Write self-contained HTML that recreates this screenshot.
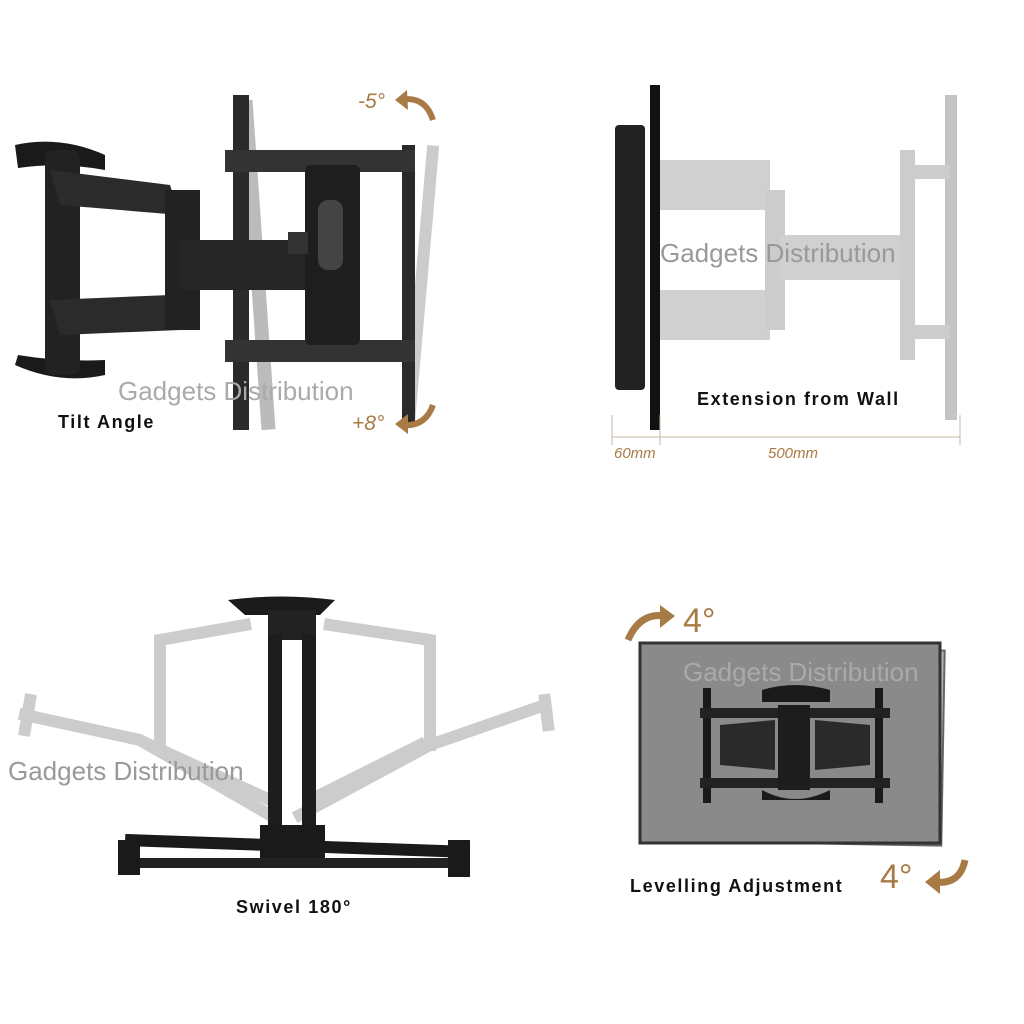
<!DOCTYPE html>
<html><head><style>
html,body{margin:0;padding:0;background:#fff;width:1024px;height:1024px;overflow:hidden}
svg{display:block}
text{font-family:"Liberation Sans",sans-serif}
.lb{font-size:18px;font-weight:bold;fill:#111;letter-spacing:1.6px}
.wm{font-size:26px;fill:#999}
</style></head><body>
<svg width="1024" height="1024" viewBox="0 0 1024 1024" xmlns="http://www.w3.org/2000/svg">
<rect width="1024" height="1024" fill="#fff"/>

<g>
 <rect x="250" y="100" width="14" height="330" fill="#bbb" transform="rotate(-4 257 265)"/>
 <rect x="415" y="145" width="12" height="280" fill="#ccc" transform="rotate(5 421 285)"/>
 <rect x="233" y="95" width="16" height="335" fill="#2a2a2a"/>
 <rect x="402" y="145" width="13" height="280" fill="#2a2a2a"/>
 <rect x="225" y="150" width="190" height="22" fill="#333"/>
 <rect x="225" y="340" width="190" height="22" fill="#333"/>
 <rect x="305" y="165" width="55" height="180" rx="6" fill="#1e1e1e"/>
 <rect x="318" y="200" width="25" height="70" rx="10" fill="#444"/>
 <path d="M15 145 Q60 135 105 155 L105 170 Q60 162 18 168 Z" fill="#1a1a1a"/>
 <path d="M15 365 Q60 385 105 375 L105 360 Q60 362 18 355 Z" fill="#1a1a1a"/>
 <rect x="45" y="150" width="35" height="225" rx="8" fill="#222"/>
 <path d="M50 170 L170 185 L180 215 L60 205 Z" fill="#2b2b2b"/>
 <path d="M50 300 L170 295 L180 330 L60 335 Z" fill="#2b2b2b"/>
 <rect x="165" y="190" width="35" height="140" fill="#222"/>
 <rect x="180" y="240" width="125" height="50" fill="#262626"/>
 <rect x="288" y="232" width="20" height="22" fill="#333"/>
</g>
<text x="358" y="108" font-size="21" font-style="italic" fill="#a87a45">-5°</text>
<path d="M400 100 Q425 95 433 120" stroke="#a87a45" stroke-width="6" fill="none"/>
<path d="M395 100 L407 90 L408 110 Z" fill="#a87a45"/>
<text x="352" y="430" font-size="21" font-style="italic" fill="#a87a45">+8°</text>
<path d="M400 425 Q425 428 433 405" stroke="#a87a45" stroke-width="6" fill="none"/>
<path d="M395 424 L408 414 L408 434 Z" fill="#a87a45"/>
<text x="118" y="400" class="wm" fill="#aaa" style="fill:#aaa">Gadgets Distribution</text>
<text x="58" y="428" class="lb">Tilt Angle</text>

<g>
 <rect x="660" y="160" width="110" height="50" fill="#d0d0d0"/>
 <rect x="660" y="290" width="110" height="50" fill="#d0d0d0"/>
 <rect x="765" y="190" width="20" height="140" fill="#ccc"/>
 <rect x="780" y="235" width="120" height="45" fill="#d0d0d0"/>
 <rect x="900" y="150" width="15" height="210" fill="#ccc"/>
 <rect x="945" y="95" width="12" height="325" fill="#c4c4c4"/>
 <rect x="905" y="165" width="45" height="14" fill="#ccc"/>
 <rect x="905" y="325" width="45" height="14" fill="#ccc"/>
 <rect x="615" y="125" width="30" height="265" rx="4" fill="#222"/>
 <rect x="650" y="85" width="10" height="345" fill="#111"/>
</g>
<text x="660" y="262" class="wm">Gadgets Distribution</text>
<text x="697" y="405" class="lb">Extension from Wall</text>
<line x1="612" y1="437" x2="960" y2="437" stroke="#c9b8a0" stroke-width="1"/>
<line x1="612" y1="415" x2="612" y2="445" stroke="#c9b8a0"/>
<line x1="660" y1="415" x2="660" y2="445" stroke="#c9b8a0"/>
<line x1="960" y1="415" x2="960" y2="445" stroke="#c9b8a0"/>
<text x="614" y="458" font-size="15" font-style="italic" fill="#a87a45">60mm</text>
<text x="768" y="458" font-size="15" font-style="italic" fill="#a87a45">500mm</text>

<g stroke="#ccc" stroke-width="12" fill="none" stroke-linecap="square">
 <path d="M245 625 L160 640 L160 740"/>
 <path d="M330 625 L430 640 L430 745"/>
 <path d="M25 715 L140 740 L270 815"/>
 <path d="M545 705 L430 745 L300 815"/>
 <path d="M30 700 L25 730"/>
 <path d="M545 700 L548 725"/>
 <path d="M150 745 L270 800"/>
 <path d="M420 745 L310 800"/>
</g>
<g>
 <path d="M228 600 Q280 593 335 600 L320 615 L245 615 Z" fill="#1b1b1b"/>
 <rect x="268" y="610" width="48" height="30" fill="#222"/>
 <rect x="268" y="635" width="14" height="200" fill="#1d1d1d"/>
 <rect x="302" y="635" width="14" height="200" fill="#1d1d1d"/>
 <rect x="260" y="825" width="65" height="40" fill="#1a1a1a"/>
 <rect x="125" y="840" width="345" height="12" fill="#1a1a1a" transform="rotate(2 297 846)"/>
 <rect x="118" y="858" width="350" height="10" fill="#222"/>
 <rect x="118" y="840" width="22" height="35" fill="#1a1a1a"/>
 <rect x="448" y="840" width="22" height="37" fill="#1a1a1a"/>
</g>
<text x="8" y="780" class="wm">Gadgets Distribution</text>
<text x="236" y="913" class="lb">Swivel 180°</text>

<rect x="643" y="648" width="300" height="195" fill="#b5b5b5" stroke="#666" stroke-width="2" transform="rotate(1 793 745)"/>
<rect x="640" y="643" width="300" height="200" fill="#8a8a8a" stroke="#333" stroke-width="3"/>
<g>
 <rect x="703" y="688" width="8" height="115" fill="#1a1a1a"/>
 <rect x="875" y="688" width="8" height="115" fill="#1a1a1a"/>
 <rect x="700" y="708" width="190" height="10" fill="#222"/>
 <rect x="700" y="778" width="190" height="10" fill="#222"/>
 <path d="M762 690 Q795 680 830 690 L830 702 L762 702 Z" fill="#1a1a1a"/>
 <path d="M762 790 Q795 808 830 790 L830 800 L762 800 Z" fill="#1a1a1a"/>
 <rect x="778" y="705" width="32" height="85" fill="#1d1d1d"/>
 <path d="M720 725 L775 720 L775 770 L720 765 Z" fill="#2a2a2a"/>
 <path d="M815 720 L870 725 L870 765 L815 770 Z" fill="#2a2a2a"/>
</g>
<text x="683" y="681" class="wm" style="fill:#aaa">Gadgets Distribution</text>
<text x="683" y="632" font-size="34" fill="#a87a45">4°</text>
<path d="M628 640 Q640 612 665 616" stroke="#a87a45" stroke-width="7" fill="none"/>
<path d="M660 605 L675 616 L660 628 Z" fill="#a87a45"/>
<text x="880" y="888" font-size="34" fill="#a87a45">4°</text>
<path d="M965 860 Q960 885 935 882" stroke="#a87a45" stroke-width="7" fill="none"/>
<path d="M940 870 L925 882 L940 894 Z" fill="#a87a45"/>
<text x="630" y="892" class="lb">Levelling Adjustment</text>
</svg>
</body></html>
